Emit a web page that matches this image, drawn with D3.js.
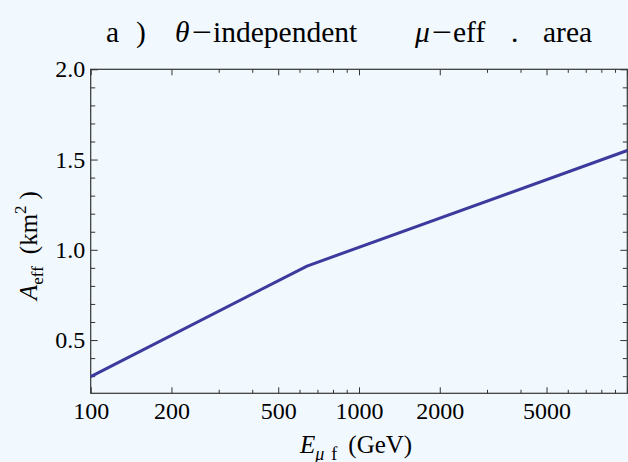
<!DOCTYPE html>
<html>
<head>
<meta charset="utf-8">
<script src="https://cdn.jsdelivr.net/npm/d3@7/dist/d3.min.js"></script>
<style>
  html, body { margin: 0; padding: 0; background: #f1f8fe; }
  svg { display: block; }
  text { font-family: "Liberation Serif", "Times New Roman", serif; fill: #000; }
</style>
</head>
<body>
<svg id="chart" width="628" height="462"></svg>
<script>
// Effective muon area vs. final muon energy (piecewise in log E)
const energies = [100, 640, 10000];        // GeV
const areas    = [0.297, 0.91, 1.55];      // km^2

const xMajorTicks  = [100, 200, 500, 1000, 2000, 5000, 10000];
const xMajorLabels = ["100", "200", "500", "1000", "2000", "5000", ""];
const xMinorTicks  = [300, 400, 600, 700, 800, 900, 3000, 4000, 6000, 7000, 8000, 9000];
const yMajorTicks  = [0.5, 1.0, 1.5, 2.0];
const yMajorLabels = ["0.5", "1.0", "1.5", "2.0"];
const yMinorTicks  = [0.3, 0.4, 0.6, 0.7, 0.8, 0.9, 1.1, 1.2, 1.3, 1.4, 1.6, 1.7, 1.8, 1.9];

const W = 628, H = 462;
const plotLeft = 90.7, plotRight = 627.3, plotTop = 69.3, plotBottom = 393.3;

const svg = d3.select("#chart");
svg.append("rect").attr("width", W).attr("height", H).attr("fill", "#f1f8fe");

const x = d3.scaleLog().domain([100, 10000]).range([plotLeft, plotRight]);
const y = d3.scaleLinear().domain([0.205, 2.0]).range([plotBottom, plotTop]);

const frameColor = "#333";

function styleAxis(g, fontSize) {
  g.select(".domain").remove();
  g.selectAll(".tick line").attr("stroke", frameColor).attr("stroke-width", 1);
  g.selectAll(".tick text")
    .attr("font-family", "'Liberation Serif', 'Times New Roman', serif")
    .attr("font-size", fontSize)
    .attr("fill", "#000");
}

// bottom axis with labels
svg.append("g").attr("transform", `translate(0,${plotBottom})`)
  .call(d3.axisBottom(x).tickValues(xMajorTicks)
    .tickFormat((d, i) => xMajorLabels[i]).tickSize(-6).tickPadding(9))
  .call(g => styleAxis(g, 24));
svg.append("g").attr("transform", `translate(0,${plotBottom})`)
  .call(d3.axisBottom(x).tickValues(xMinorTicks).tickFormat("").tickSize(-3.5))
  .call(g => styleAxis(g, 24));

// top mirror ticks
svg.append("g").attr("transform", `translate(0,${plotTop})`)
  .call(d3.axisTop(x).tickValues(xMajorTicks).tickFormat("").tickSize(-6))
  .call(g => styleAxis(g, 24));
svg.append("g").attr("transform", `translate(0,${plotTop})`)
  .call(d3.axisTop(x).tickValues(xMinorTicks).tickFormat("").tickSize(-3.5))
  .call(g => styleAxis(g, 24));

// left axis with labels
svg.append("g").attr("transform", `translate(${plotLeft},0)`)
  .call(d3.axisLeft(y).tickValues(yMajorTicks)
    .tickFormat((d, i) => yMajorLabels[i]).tickSize(-7).tickPadding(5.5))
  .call(g => styleAxis(g, 24));
svg.append("g").attr("transform", `translate(${plotLeft},0)`)
  .call(d3.axisLeft(y).tickValues(yMinorTicks).tickFormat("").tickSize(-4.5))
  .call(g => styleAxis(g, 24));

// right mirror ticks
svg.append("g").attr("transform", `translate(${plotRight},0)`)
  .call(d3.axisRight(y).tickValues(yMajorTicks).tickFormat("").tickSize(-7))
  .call(g => styleAxis(g, 24));
svg.append("g").attr("transform", `translate(${plotRight},0)`)
  .call(d3.axisRight(y).tickValues(yMinorTicks).tickFormat("").tickSize(-4.5))
  .call(g => styleAxis(g, 24));

// frame
svg.append("rect")
  .attr("x", plotLeft).attr("y", plotTop)
  .attr("width", plotRight - plotLeft).attr("height", plotBottom - plotTop)
  .attr("fill", "none").attr("stroke", frameColor).attr("stroke-width", 1.2);

// curve
const pts = energies.map((e, i) => [e, areas[i]]);
svg.append("path")
  .datum(pts)
  .attr("fill", "none")
  .attr("stroke", "#3d3a9e")
  .attr("stroke-width", 3)
  .attr("stroke-linejoin", "round")
  .attr("d", d3.line().x(d => x(d[0])).y(d => y(d[1])));

// title
const titleY = 42, titleSize = 29.5;
const title = svg.append("g").attr("font-size", titleSize);
title.append("text").attr("x", 106).attr("y", titleY).text("a");
title.append("text").attr("x", 136).attr("y", titleY).text(")");
title.append("text").attr("x", 175).attr("y", titleY).attr("font-style", "italic").text("θ");
title.append("text").attr("x", 192).attr("y", titleY)
  .attr("textLength", 20).attr("lengthAdjust", "spacingAndGlyphs").text("−");
title.append("text").attr("x", 213).attr("y", titleY).text("independent");
title.append("text").attr("x", 415).attr("y", titleY).attr("font-style", "italic").text("μ");
title.append("text").attr("x", 432).attr("y", titleY)
  .attr("textLength", 20).attr("lengthAdjust", "spacingAndGlyphs").text("−");
title.append("text").attr("x", 453).attr("y", titleY).text("eff");
title.append("text").attr("x", 511).attr("y", titleY).text(".");
title.append("text").attr("x", 543).attr("y", titleY).text("area");

// x-axis label
const xl = svg.append("text").attr("x", 300).attr("y", 452.5).attr("font-size", 25);
xl.append("tspan").attr("font-style", "italic").text("E");
xl.append("tspan").attr("font-size", 18).attr("font-style", "italic").attr("dy", 7).text("μ");
xl.append("tspan").attr("font-size", 18).attr("dx", 7).text("f");
xl.append("tspan").attr("dy", -7).attr("dx", 11).text("(GeV)");

// y-axis label
const yl = svg.append("text")
  .attr("transform", "translate(37,300) rotate(-90)")
  .attr("x", 0).attr("y", 0).attr("font-size", 25);
yl.append("tspan").attr("font-style", "italic").text("A");
yl.append("tspan").attr("font-size", 17).attr("dy", 6).text("eff");
yl.append("tspan").attr("dy", -6).attr("dx", 12).text("(km");
yl.append("tspan").attr("font-size", 17).attr("dy", -11).text("2");
yl.append("tspan").attr("dy", 11).attr("dx", 6).text(")");
</script>
</body>
</html>
